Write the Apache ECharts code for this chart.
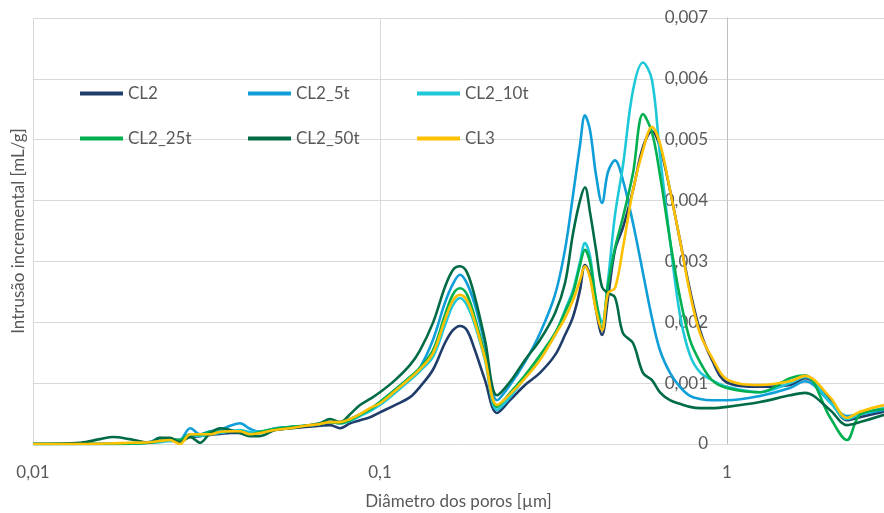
<!DOCTYPE html>
<html>
<head>
<meta charset="utf-8">
<script src="https://cdn.jsdelivr.net/npm/echarts@6/dist/echarts.min.js"></script>
<style>
html,body{margin:0;padding:0;background:#fff;overflow:hidden;}
#chart{width:884px;height:513px;}
</style>
</head>
<body>
<div id="chart"></div>
<script>
// Pore diameter [µm]
const diameters = [0.0100,0.0137,0.0156,0.0170,0.0190,0.0217,0.0232,0.0248,0.0265,0.0284,
  0.0303,0.0324,0.0346,0.0370,0.0395,0.0422,0.0451,0.0498,0.0551,0.0608,
  0.0672,0.0718,0.0767,0.0820,0.0876,0.0936,0.1000,0.1105,0.1221,0.1304,
  0.1421,0.1539,0.1623,0.1700,0.1781,0.1878,0.2007,0.2174,0.2370,0.2618,
  0.2891,0.3194,0.3413,0.3600,0.3771,0.3897,0.4029,0.4194,0.4364,0.4541,
  0.4756,0.5016,0.5359,0.5727,0.6079,0.6411,0.6852,0.7320,0.7823,0.8359,
  0.9053,1.000,1.245,1.519,1.678,1.981,2.217,2.417,2.835];

// Incremental intrusion [mL/g]
const CL2 = [0,0,0,0,0.000008,0.000033,0.00005,0.000065,0.000065,0.000115,
  0.00013,0.00015,0.000165,0.00018,0.00018,0.000165,0.0002,0.00023,0.00026,0.00028,
  0.0003,0.00031,0.00026,0.00034,0.00039,0.00044,0.00052,0.00064,0.00077,0.00094,
  0.00122,0.00166,0.00187,0.00194,0.00187,0.00154,0.00105,0.00051,0.00072,0.00097,
  0.00117,0.00146,0.00179,0.00209,0.00253,0.00294,0.00278,0.0022,0.00179,0.0024,
  0.00319,0.00356,0.00417,0.00488,0.00514,0.00488,0.00417,0.00335,0.00253,0.00187,
  0.00138,0.00101,0.00094,0.00097,0.00108,0.00072,0.00039,0.00044,0.00053];
const CL2_5t = [0,0,0,0,0.000005,0.00003,0.0001,0.00005,0.000065,0.00026,
  0.00016,0.00021,0.00023,0.0003,0.00034,0.00025,0.0002,0.00026,0.00028,0.0003,
  0.00033,0.00036,0.00036,0.00041,0.00049,0.00057,0.00069,0.00089,0.0011,0.00126,
  0.00171,0.00232,0.00263,0.00278,0.00264,0.00228,0.00163,0.00072,0.00097,0.00135,
  0.00182,0.00245,0.00319,0.00409,0.00491,0.0054,0.00516,0.00442,0.00396,0.00447,
  0.00466,0.00433,0.00363,0.00281,0.00207,0.00154,0.00117,0.00094,0.00079,0.00074,
  0.00072,0.00072,0.00079,0.00092,0.00103,0.00069,0.00046,0.00049,0.00056];
const CL2_10t = [0,0,0,0,0.000005,0.00002,0.00003,0.00005,0.000065,0.00015,
  0.00013,0.00016,0.00018,0.00021,0.00023,0.0002,0.0002,0.00025,0.00028,0.0003,
  0.00033,0.00036,0.00034,0.00038,0.00046,0.00054,0.00064,0.00084,0.00105,0.0012,
  0.00143,0.00195,0.00228,0.0024,0.00228,0.00195,0.00138,0.00056,0.00077,0.0011,
  0.00143,0.00179,0.0022,0.00253,0.00299,0.0033,0.00309,0.00236,0.002,0.00269,
  0.00376,0.00458,0.00581,0.00627,0.00598,0.00475,0.00335,0.00212,0.00146,0.00118,
  0.00105,0.00094,0.00085,0.001,0.0011,0.00069,0.00041,0.00049,0.00059];
const CL2_25t = [0,0,0,0,0.000005,0.00002,0.00005,0.00008,0.000065,0.00016,
  0.00015,0.0002,0.0002,0.00021,0.00021,0.00016,0.0002,0.00025,0.00028,0.0003,
  0.00033,0.00036,0.00034,0.00039,0.00048,0.00057,0.00069,0.00089,0.0011,0.00125,
  0.00154,0.00212,0.00246,0.00256,0.00246,0.00207,0.00146,0.00061,0.00084,0.00113,
  0.00146,0.00182,0.00217,0.00248,0.00294,0.00319,0.00299,0.00236,0.0019,0.00261,
  0.00322,0.00373,0.00445,0.00542,0.00512,0.00442,0.00335,0.00241,0.00171,0.00135,
  0.00105,0.00092,0.00085,0.00108,0.00113,0.00044,0.000066,0.00048,0.00057];
const CL2_50t = [0,0.00002,0.00008,0.000115,0.00008,0.00002,0.0001,0.0001,0.00003,0.000115,
  0.00002,0.00018,0.00026,0.00023,0.00018,0.00013,0.00013,0.00023,0.00026,0.0003,
  0.00034,0.00041,0.00036,0.00049,0.00064,0.00074,0.00085,0.00105,0.0013,0.00154,
  0.00199,0.00258,0.00286,0.00292,0.00282,0.00241,0.00171,0.0008,0.00102,0.00138,
  0.00171,0.00215,0.00264,0.00346,0.004,0.00422,0.00381,0.00319,0.00258,0.00248,
  0.00241,0.00182,0.00166,0.00117,0.00105,0.00085,0.00072,0.00066,0.00061,0.00059,
  0.00059,0.00061,0.00069,0.0008,0.00084,0.00056,0.00031,0.00036,0.00048];
const CL3 = [0,0,0.000005,0.00001,0.00002,0.00003,0.00005,0.000065,0,0.00016,
  0.00016,0.00016,0.0002,0.00021,0.00021,0.00016,0.00018,0.00023,0.00026,0.0003,
  0.00033,0.00036,0.00036,0.00041,0.00049,0.00059,0.00067,0.00087,0.00108,0.00123,
  0.00149,0.00204,0.00236,0.00245,0.00236,0.002,0.00141,0.00064,0.00082,0.00108,
  0.00138,0.00179,0.00207,0.00236,0.00269,0.00292,0.00273,0.0022,0.00187,0.00248,
  0.00256,0.00323,0.00417,0.00483,0.00521,0.00494,0.00417,0.00335,0.00248,0.00182,
  0.00142,0.00106,0.00097,0.00103,0.00112,0.00077,0.00043,0.00053,0.00064];

const seriesNames = ['CL2','CL2_5t','CL2_10t','CL2_25t','CL2_50t','CL3'];
const seriesValues = [CL2, CL2_5t, CL2_10t, CL2_25t, CL2_50t, CL3];
const seriesColors = ['#1f3c6b','#0f9ed8','#1ec8d8','#00b050','#006b45','#ffc000'];

const xTickValues = [0.01, 0.1, 1];

const FONT = 'Lato';
const TXT = '#595959';

const chart = echarts.init(document.getElementById('chart'), null, {renderer: 'canvas'});

const legendPos = [[80, 85], [248, 85], [417, 85], [80, 130], [248, 130], [417, 130]];

const option = {
  animation: false,
  backgroundColor: '#ffffff',
  grid: {left: 33, right: 0, top: 18, bottom: 69, containLabel: false, outerBoundsMode: 'none'},
  legend: seriesNames.map((n, i) => ({
    data: [n],
    left: legendPos[i][0],
    top: legendPos[i][1],
    padding: 0,
    icon: 'rect',
    itemWidth: 43,
    itemHeight: 4,
    itemGap: 0,
    textStyle: {color: TXT, fontSize: 17, fontFamily: FONT}
  })),
  xAxis: {
    type: 'log',
    logBase: 10,
    min: 0.01,
    max: 2.835,
    name: 'Diâmetro dos poros [µm]',
    nameLocation: 'middle',
    nameGap: 49,
    nameTextStyle: {color: TXT, fontSize: 17, fontFamily: FONT},
    axisLine: {show: true, lineStyle: {color: '#d9d9d9', width: 1}},
    axisTick: {show: false},
    axisLabel: {
      color: TXT, fontSize: 17, fontFamily: FONT, margin: 20,
      formatter: function (v) {
        const hit = xTickValues.find(t => Math.abs(Math.log10(v) - Math.log10(t)) < 1e-6);
        return hit === undefined ? '' : String(hit).replace('.', ',');
      }
    },
    splitLine: {show: true, lineStyle: {color: '#d9d9d9', width: 1}}
  },
  yAxis: {
    type: 'value',
    position: 'left',
    offset: -694,
    min: 0,
    max: 0.007,
    interval: 0.001,
    name: 'Intrusão incremental [mL/g]',
    nameLocation: 'middle',
    nameGap: 700,
    nameTextStyle: {color: TXT, fontSize: 17, fontFamily: FONT},
    axisLine: {show: true, lineStyle: {color: '#bfbfbf', width: 1}},
    axisTick: {show: false},
    axisLabel: {
      color: TXT, fontSize: 17, fontFamily: FONT, margin: 19,
      formatter: function (v) {
        if (Math.abs(v) < 1e-12) return '0';
        return v.toFixed(3).replace('.', ',');
      }
    },
    splitLine: {show: true, lineStyle: {color: '#d9d9d9', width: 1}}
  },
  series: seriesNames.map((n, i) => ({
    name: n,
    type: 'line',
    smooth: 0.35,
    showSymbol: false,
    symbol: 'none',
    data: diameters.map((d, j) => [d, seriesValues[i][j]]),
    itemStyle: {color: seriesColors[i]},
    lineStyle: {color: seriesColors[i], width: 2.6},
    z: 2 + i
  }))
};

chart.setOption(option);
</script>
</body>
</html>
